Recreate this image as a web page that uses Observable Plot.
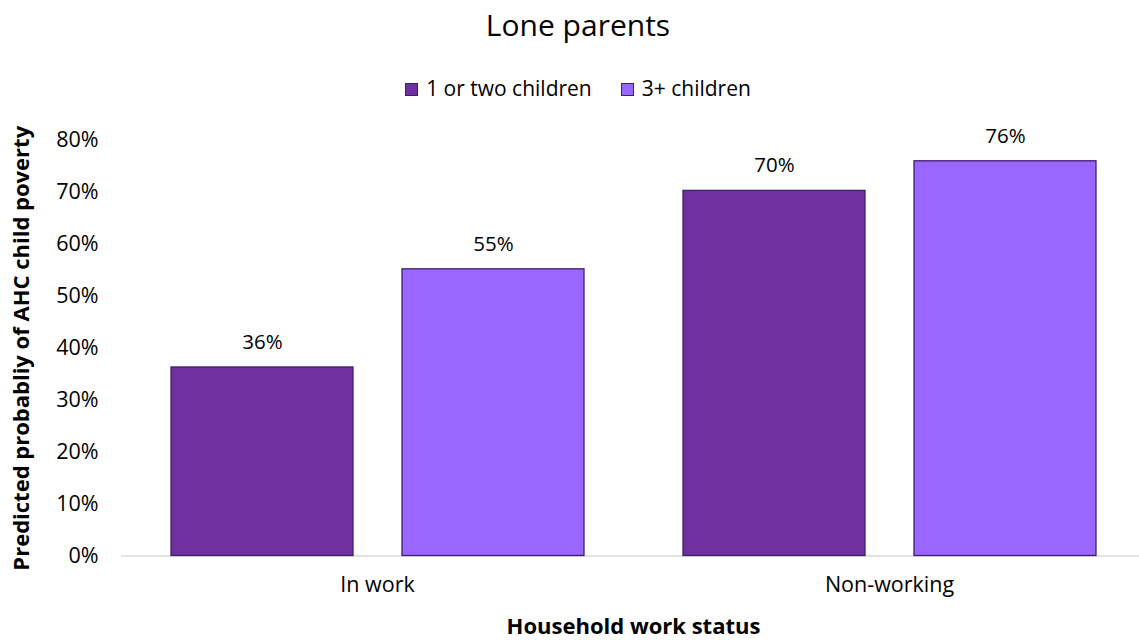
<!DOCTYPE html>
<html>
<head>
<meta charset="utf-8">
<script src="https://cdn.jsdelivr.net/npm/d3@7"></script>
<script src="https://cdn.jsdelivr.net/npm/@observablehq/plot@0.6"></script>
<style>
  html, body { margin: 0; padding: 0; background: #ffffff; }
  body { width: 1139px; height: 641px; overflow: hidden; font-family: "Open Sans", sans-serif; color: #000; }
  #title { height: 50px; line-height: 50px; font-size: 30px; text-align: center; padding-left: 17px; }
  #legend { margin-top: 20px; height: 36px; line-height: 36px; font-size: 21px; text-align: center; padding-left: 17px; display: flex; justify-content: center; align-items: center; gap: 29px; }
  .item { display: inline-flex; align-items: center; }
  .sw { display: inline-block; width: 11px; height: 11px; border: 1px solid #3F1F6B; margin-right: 8px; margin-top: 3px; }
  #chart svg [aria-label="y-axis label"], #chart svg [aria-label="fx-axis label"] { font-weight: bold; font-size: 22px; }
</style>
</head>
<body>
<div id="title">Lone parents</div>
<div id="legend"></div>
<div id="chart"></div>
<script>
const categories = ["In work", "Non-working"];
const series = ["1 or two children", "3+ children"];
const oneOrTwoChildren = [36.3, 70.3];
const threePlusChildren = [55.2, 76.0];
const yTicks = [0, 10, 20, 30, 40, 50, 60, 70, 80];
const seriesColors = ["#7030A0", "#9966FF"];
const xTitle = "Household work status";
const yTitle = "Predicted probabliy of AHC child poverty";

const data = categories.flatMap((c, i) => [
  {status: c, series: series[0], value: oneOrTwoChildren[i]},
  {status: c, series: series[1], value: threePlusChildren[i]}
]);

// Legend
const legend = document.getElementById("legend");
series.forEach((s, i) => {
  const it = document.createElement("span");
  it.className = "item";
  const sw = document.createElement("span");
  sw.className = "sw";
  sw.style.background = seriesColors[i];
  it.appendChild(sw);
  it.appendChild(document.createTextNode(s));
  legend.appendChild(it);
});

const chart = Plot.plot({
  width: 1139,
  height: 535,
  marginLeft: 120,
  marginRight: -6,
  marginTop: 34,
  marginBottom: 85.5,
  style: {fontFamily: "Open Sans, sans-serif", fontSize: "21.5px", color: "#000", background: "#ffffff", overflow: "visible"},
  fx: {domain: categories, padding: 0, label: xTitle, tickSize: 0, tickPadding: 21, labelAnchor: "center", labelOffset: 78},
  x: {domain: series, padding: 0.213, axis: null},
  y: {domain: [0, 80], ticks: yTicks, tickFormat: d => d + "%", tickSize: 0, tickPadding: 23, label: yTitle, labelAnchor: "center", labelOffset: 108, labelArrow: "none"},
  color: {domain: series, range: seriesColors},
  marks: [
    Plot.ruleY([0], {stroke: "#D9D9D9", strokeWidth: 1.5}),
    Plot.barY(data, {fx: "status", x: "series", y: "value", fill: "series", stroke: "#3F1F6B", strokeWidth: 1.3}),
    Plot.text(data, {fx: "status", x: "series", y: "value", text: d => Math.round(d.value) + "%", dy: -25, fill: "#000", fontSize: 20.5})
  ]
});
document.getElementById("chart").appendChild(chart);
</script>
</body>
</html>
